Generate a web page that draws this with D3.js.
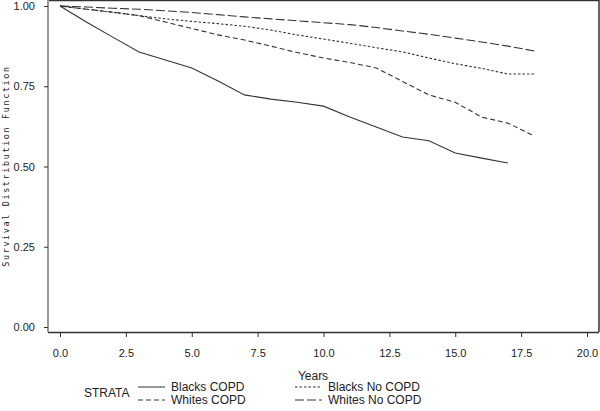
<!DOCTYPE html>
<html><head><meta charset="utf-8">
<script src="https://cdn.jsdelivr.net/npm/d3@7"></script>
<style>body{margin:0;background:#fff}svg{display:block}</style>
</head><body>
<svg id="c" width="600" height="411"></svg>
<script>
const years = [0,1,2,3,4,5,6,7,8,9,10,11,12,13,14,15,16,17,18];
const blacksCOPD   = [1.0,0.95,0.903,0.857,0.832,0.807,0.766,0.723,0.71,0.70,0.688,0.654,0.623,0.592,0.58,0.542,0.526,0.511];
const whitesCOPD   = [1.0,0.99,0.981,0.97,0.95,0.93,0.91,0.894,0.875,0.855,0.838,0.824,0.807,0.765,0.723,0.70,0.654,0.635,0.595];
const blacksNoCOPD = [1.0,0.99,0.98,0.97,0.96,0.952,0.945,0.937,0.925,0.91,0.897,0.884,0.87,0.857,0.838,0.82,0.806,0.788,0.788];
const whitesNoCOPD = [1.0,0.997,0.993,0.99,0.985,0.98,0.973,0.966,0.96,0.954,0.948,0.942,0.933,0.922,0.912,0.90,0.888,0.875,0.86];
const xTicks = [0,2.5,5,7.5,10,12.5,15,17.5,20];
const yTicks = [0,0.25,0.5,0.75,1.0];
const seriesNames = ["Blacks COPD","Whites COPD","Blacks No COPD","Whites No COPD"];
const seriesData = [blacksCOPD, whitesCOPD, blacksNoCOPD, whitesNoCOPD];
const dashes = [null, "5,3", "2.5,2", "9,3"];

const svg = d3.select("#c");
const x = d3.scaleLinear().domain([0,20]).range([60,587]);
const y = d3.scaleLinear().domain([0,1]).range([327,6]);
const font = "'Liberation Sans', Arial, sans-serif";
const col = "#333";

// frame
svg.append("line").attr("x1",48).attr("x2",599).attr("y1",0.5).attr("y2",0.5).attr("stroke",col).attr("stroke-width",1.5);
svg.append("line").attr("x1",599).attr("x2",599).attr("y1",0).attr("y2",332).attr("stroke",col).attr("stroke-width",1.5);

// x axis
const xa = svg.append("g").attr("transform","translate(0,332)")
  .call(d3.axisBottom(x).tickValues(xTicks).tickFormat(d3.format(".1f")).tickSize(5).tickPadding(12).tickSizeOuter(0));
xa.select(".domain").attr("d","M48,0.5H599").attr("stroke",col).attr("stroke-width",1.5);
xa.selectAll(".tick line").attr("stroke",col);
xa.selectAll("text").attr("font-family",font).attr("font-size",11).attr("fill","#222");

// y axis
const ya = svg.append("g").attr("transform","translate(48,0)")
  .call(d3.axisLeft(y).tickValues(yTicks).tickFormat(d3.format(".2f")).tickSize(4).tickPadding(9).tickSizeOuter(0));
ya.select(".domain").attr("d","M0,0V332").attr("stroke","#999").attr("stroke-width",2);
ya.selectAll(".tick line").attr("stroke",col);
ya.selectAll("text").attr("font-family",font).attr("font-size",11).attr("fill","#222");

// y title
svg.append("text").attr("transform","translate(9,166) rotate(-90)")
  .attr("text-anchor","middle").attr("font-family","'DejaVu Sans Mono', monospace").attr("font-size",8.5)
  .attr("letter-spacing","1.6px").attr("fill","#222").text("Survival Distribution Function");

// x title
svg.append("text").attr("x",313).attr("y",380).attr("text-anchor","middle")
  .attr("font-family",font).attr("font-size",12).attr("fill","#222").text("Years");

// lines
const line = d3.line().x((d,i)=>x(years[i])).y(d=>y(d));
seriesData.forEach((s,k)=>{
  svg.append("path").datum(s).attr("d",line).attr("fill","none")
    .attr("stroke",col).attr("stroke-width",1.1)
    .attr("stroke-dasharray",dashes[k]);
});

// legend
svg.append("text").attr("x",84).attr("y",397).attr("font-family",font).attr("font-size",12).attr("fill","#222").text("STRATA");
const legPos = [[138,387],[138,400],[295,387],[295,400]];
seriesNames.forEach((n,k)=>{
  const [lx,ly] = legPos[k];
  svg.append("line").attr("x1",lx).attr("x2",lx+27).attr("y1",ly).attr("y2",ly)
    .attr("stroke",col).attr("stroke-width",1).attr("stroke-dasharray",dashes[k]);
  svg.append("text").attr("x",lx+33).attr("y",ly+4).attr("font-family",font).attr("font-size",12).attr("fill","#222").text(n);
});
</script>
</body></html>
